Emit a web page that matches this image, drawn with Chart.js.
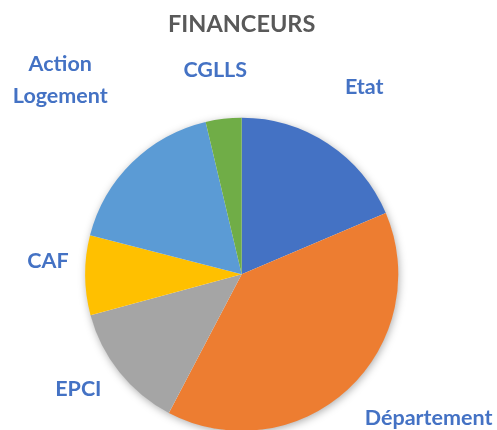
<!DOCTYPE html>
<html>
<head>
<meta charset="utf-8">
<script src="https://cdn.jsdelivr.net/npm/chart.js@4"></script>
<style>
  html, body { margin: 0; padding: 0; background: #fff; overflow: hidden; width: 497px; height: 430px; }
  #wrap { width: 497px; height: 440px; }
</style>
</head>
<body>
<div id="wrap"><canvas id="pieChart"></canvas></div>
<script>
const categories = ['Etat', 'Département', 'EPCI', 'CAF', ['Action', 'Logement'], 'CGLLS'];
const shares = [18.6, 39.1, 13.1, 8.2, 17.3, 3.7];
const sliceColors = ['#4472C4', '#ED7D31', '#A5A5A5', '#FFC000', '#5B9BD5', '#70AD47'];

// label placement: [distance as multiple of radius, angle nudge in degrees]
const labelPlace = [[1.43, -0.3], [1.505, -9.8], [1.275, 3.6], [1.24, 4.3], [1.697, 1.4], [1.318, -0.7]];

const pieShadow = {
    id: 'pieShadow',
    beforeDatasetsDraw(chart) {
        const arc = chart.getDatasetMeta(0).data[0];
        if (!arc) return;
        const ctx = chart.ctx;
        ctx.save();
        ctx.shadowColor = 'rgba(0,0,0,0.35)';
        ctx.shadowBlur = 8;
        ctx.shadowOffsetX = 1;
        ctx.shadowOffsetY = 2;
        ctx.fillStyle = '#fff';
        ctx.beginPath();
        ctx.arc(arc.x, arc.y, arc.outerRadius - 0.5, 0, Math.PI * 2);
        ctx.fill();
        ctx.restore();
    }
};

const outsideLabels = {
    id: 'outsideLabels',
    afterDatasetsDraw(chart) {
        const ctx = chart.ctx;
        const meta = chart.getDatasetMeta(0);
        ctx.save();
        ctx.fillStyle = '#4472C4';
        ctx.font = 'bold 21.5px Lato';
        ctx.textAlign = 'center';
        ctx.textBaseline = 'middle';
        meta.data.forEach((arc, i) => {
            const p = labelPlace[i];
            const a = (arc.startAngle + arc.endAngle) / 2 + p[1] * Math.PI / 180;
            const d = arc.outerRadius * p[0];
            const x = arc.x + Math.cos(a) * d;
            const y = arc.y + Math.sin(a) * d;
            const lines = [].concat(chart.data.labels[i]);
            const lh = 32;
            lines.forEach((t, k) => {
                ctx.fillText(t, x, y + (k - (lines.length - 1) / 2) * lh);
            });
        });
        ctx.restore();
    }
};

new Chart(document.getElementById('pieChart'), {
    type: 'pie',
    data: {
        labels: categories,
        datasets: [{
            data: shares,
            backgroundColor: sliceColors,
            borderWidth: 0
        }]
    },
    options: {
        responsive: true,
        maintainAspectRatio: false,
        animation: false,
        layout: { padding: { left: 85, right: 98.6, top: 0, bottom: 9.1 } },
        plugins: {
            legend: { display: false },
            tooltip: { enabled: false },
            title: {
                display: true,
                text: 'FINANCEURS',
                color: '#595959',
                font: { family: 'Lato', size: 23.5, weight: 'bold', lineHeight: 1.2 },
                padding: { top: 9.9, bottom: 79.6 }
            }
        }
    },
    plugins: [pieShadow, outsideLabels]
});
</script>
</body>
</html>
